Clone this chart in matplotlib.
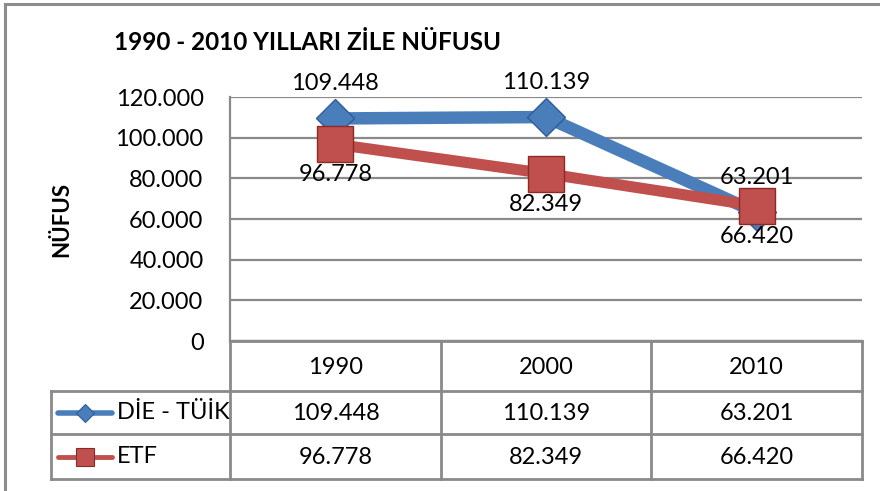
import matplotlib.pyplot as plt
from matplotlib.ticker import FuncFormatter

plt.rcParams['font.family'] = ['Lato', 'DejaVu Sans']

# ---- data ----
years = ['1990', '2000', '2010']
die_tuik = [109448, 110139, 63201]
etf = [96778, 82349, 66420]
series_names = ['DİE - TÜİK', 'ETF']
y_ticks = [0, 20000, 40000, 60000, 80000, 100000, 120000]

BLUE = '#4a7ebb'
BLUE_DARK = '#2c5d99'
RED = '#c0504d'
RED_DARK = '#8b2a27'
GRID = '#8a8a8a'

W, H = 880, 491


def fmt(v):
    return f"{int(v):,}".replace(',', '.')


def fx(px):
    return px / W


def fy(py):
    return 1 - py / H


fig = plt.figure(figsize=(W / 100, H / 100), dpi=100)

# background axes in pixel coordinates (border + table)
bg = fig.add_axes([0, 0, 1, 1])
bg.set_xlim(0, W)
bg.set_ylim(H, 0)
bg.axis('off')

# outer chart border (only top/left visible)
bg.plot([5, W], [4, 4], color='#8c8c8c', lw=2.2)
bg.plot([5, 5], [4, H], color='#8c8c8c', lw=2.2)

# plot area
left, right, top, bottom = 230, 862, 97, 341
ax = fig.add_axes([fx(left), fy(bottom), fx(right - left), (bottom - top) / H])
x = list(range(len(years)))
ax.set_xlim(-0.5, len(years) - 0.5)
ax.set_ylim(0, 120000)
ax.set_yticks(y_ticks)
ax.yaxis.set_major_formatter(FuncFormatter(lambda v, p: fmt(v)))
ax.set_xticks([])
ax.tick_params(axis='y', length=0, pad=19, labelsize=17)
ax.grid(axis='y', color=GRID, lw=1.6)
ax.set_axisbelow(True)
for s in ['top', 'right']:
    ax.spines[s].set_visible(False)
ax.spines['left'].set_color(GRID)
ax.spines['left'].set_linewidth(1.6)
ax.spines['bottom'].set_color(GRID)
ax.spines['bottom'].set_linewidth(1.6)
ax.set_ylabel('NÜFUS', fontsize=16, fontweight='bold', labelpad=31)

ax.plot(x, die_tuik, color=BLUE, lw=9, marker='D', markersize=19,
        markerfacecolor=BLUE, markeredgecolor=BLUE_DARK, markeredgewidth=1,
        solid_capstyle='butt', zorder=3, clip_on=False)
ax.plot(x, etf, color=RED, lw=8, marker='s', markersize=26,
        markerfacecolor=RED, markeredgecolor=RED_DARK, markeredgewidth=1,
        solid_capstyle='butt', zorder=4, clip_on=False)

for xi, v in zip(x, die_tuik):
    ax.annotate(fmt(v), (xi, v), xytext=(0, 25), textcoords='offset points',
                ha='center', va='center', fontsize=17, zorder=6)
for xi, v in zip(x, etf):
    ax.annotate(fmt(v), (xi, v), xytext=(0, -22), textcoords='offset points',
                ha='center', va='center', fontsize=17, zorder=6)

fig.text(fx(307), fy(43), '1990 - 2010 YILLARI ZİLE NÜFUSU', ha='center',
         va='center', fontsize=17.5, fontweight='bold')

# ---- data table ----
col_edges = [230, 441, 651, 862]
row_edges = [341, 391, 434, 479]
leg_left = 51
tkw = dict(color=GRID, lw=2, solid_capstyle='projecting')
# verticals
for cx in col_edges:
    bg.plot([cx, cx], [row_edges[0], row_edges[-1]], **tkw)
bg.plot([leg_left, leg_left], [row_edges[1], row_edges[-1]], **tkw)
# horizontals
bg.plot([col_edges[0], col_edges[-1]], [row_edges[0], row_edges[0]], **tkw)
for ry in row_edges[1:]:
    bg.plot([leg_left, col_edges[-1]], [ry, ry], **tkw)

centers = [(col_edges[i] + col_edges[i + 1]) / 2 for i in range(len(years))]
for cx, yr in zip(centers, years):
    bg.text(cx, (row_edges[0] + row_edges[1]) / 2 + 2, yr, ha='center', va='center', fontsize=17)

rows = [(die_tuik, BLUE, BLUE_DARK, 'D', 9.5, 4),
        (etf, RED, RED_DARK, 's', 13, 3.5)]
for r, (vals, c, ec, mk, ms, lw) in enumerate(rows):
    yc = (row_edges[r + 1] + row_edges[r + 2]) / 2
    for cx, v in zip(centers, vals):
        bg.text(cx, yc + 1, fmt(v), ha='center', va='center', fontsize=17)
    bg.plot([58, 112], [yc, yc], color=c, lw=lw, solid_capstyle='round')
    bg.plot([85], [yc], marker=mk, markersize=ms, color=c,
            markeredgecolor=ec, markeredgewidth=0.8)
    bg.text(117, yc, series_names[r], ha='left', va='center', fontsize=17)

fig.savefig('out.png', dpi=100)
